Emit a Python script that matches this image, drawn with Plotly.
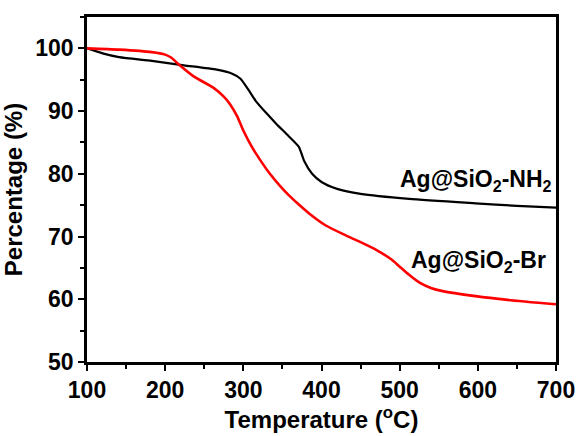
import plotly.graph_objects as go

# TGA curves: temperature (°C) vs. residual weight (%)
temp_nh2 = [100, 120, 141, 183, 224, 266, 285, 296, 306, 316, 330, 342, 358, 371,
            378, 388, 400, 420, 450, 512, 597, 650, 700]
pct_nh2 = [100.0, 99.2, 98.6, 98.0, 97.3, 96.6, 96.0, 95.2, 93.5, 91.6, 89.6, 88.0,
           86.0, 84.3, 82.0, 80.0, 78.7, 77.6, 76.8, 76.0, 75.3, 74.9, 74.6]

temp_br = [100, 141, 183, 200, 208, 216, 237, 262, 275, 283, 292, 300, 310, 321, 334,
           346, 358, 371, 385, 405, 429, 450, 471, 490, 500, 512, 526, 540, 555, 597,
           638, 700]
pct_br = [100.0, 99.8, 99.4, 99.0, 98.5, 97.6, 95.5, 93.7, 92.3, 91.1, 89.2, 86.9,
          84.5, 82.3, 80.0, 78.2, 76.6, 75.1, 73.6, 71.8, 70.3, 69.1, 67.8, 66.3, 65.2,
          63.9, 62.6, 61.8, 61.3, 60.5, 59.9, 59.2]

x_ticks = [100, 200, 300, 400, 500, 600, 700]
y_ticks = [50, 60, 70, 80, 90, 100]

FONT = "Liberation Sans, Arial, sans-serif"

fig = go.Figure()
fig.add_trace(go.Scatter(x=temp_nh2, y=pct_nh2, mode="lines",
                         line=dict(color="black", width=2.2, shape="spline", smoothing=0.6),
                         showlegend=False))
fig.add_trace(go.Scatter(x=temp_br, y=pct_br, mode="lines",
                         line=dict(color="#ff0000", width=2.6, shape="spline", smoothing=0.6),
                         showlegend=False))

fig.add_annotation(x=697, y=79.0, xref="x", yref="y", showarrow=False,
                   text="Ag@SiO<sub>2</sub>-NH<sub>2</sub>", xanchor="right", yanchor="middle",
                   font=dict(family=FONT, size=23, color="black", weight="bold"))
fig.add_annotation(x=690, y=66.0, xref="x", yref="y", showarrow=False,
                   text="Ag@SiO<sub>2</sub>-Br", xanchor="right", yanchor="middle",
                   font=dict(family=FONT, size=23, color="black", weight="bold"))

axis_common = dict(showline=True, linecolor="black", linewidth=2.5, mirror=True,
                   showgrid=False, zeroline=False, ticks="outside", ticklen=6,
                   tickwidth=2, tickcolor="black",
                   tickfont=dict(family=FONT, size=23, color="black", weight="bold"))

fig.update_xaxes(range=[100, 700], tickvals=x_ticks,
                 title=dict(text="Temperature (<sup>o</sup>C)", standoff=4,
                            font=dict(family=FONT, size=24, color="black", weight="bold")),
                 minor=dict(ticks="outside", ticklen=4, tickwidth=2, tickcolor="black", dtick=50),
                 **axis_common)
fig.update_yaxes(range=[50, 105], tickvals=y_ticks,
                 title=dict(text="Percentage (%)", standoff=6,
                            font=dict(family=FONT, size=24, color="black", weight="bold")),
                 minor=dict(ticks="outside", ticklen=4, tickwidth=2, tickcolor="black", dtick=5),
                 **axis_common)

fig.update_layout(width=587, height=436, paper_bgcolor="white", plot_bgcolor="white",
                  margin=dict(l=84, r=24, t=17, b=65))

fig.write_html("out.html")
